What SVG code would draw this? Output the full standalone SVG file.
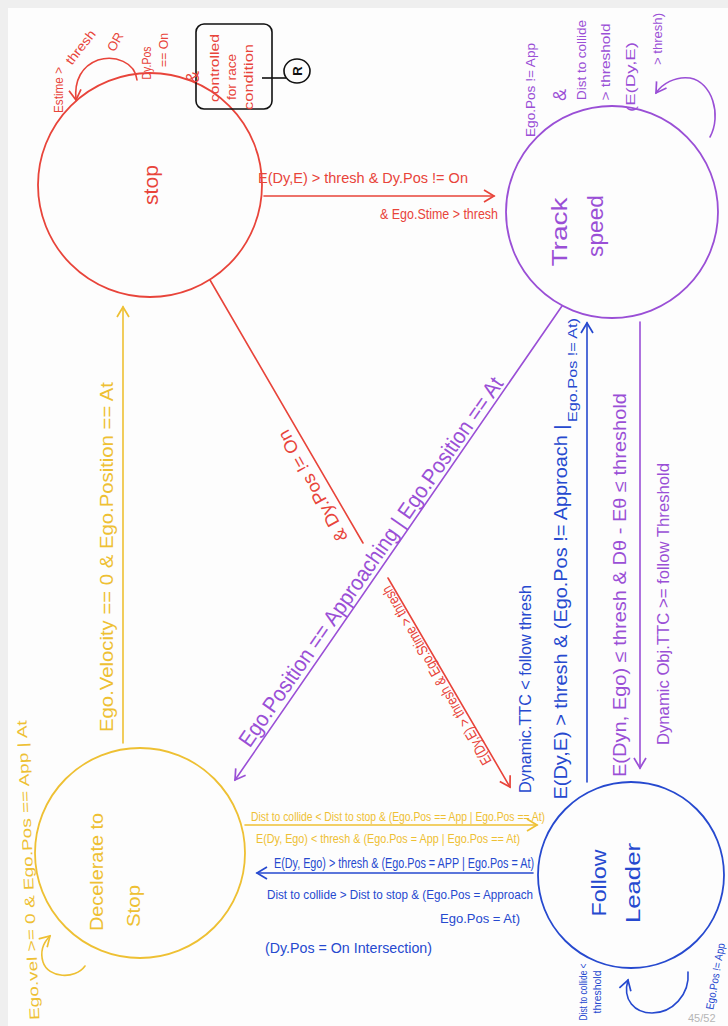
<svg xmlns="http://www.w3.org/2000/svg" width="728" height="1026" viewBox="0 0 728 1026">
<style>
text{font-family:"Liberation Sans","DejaVu Sans",sans-serif}
.r{fill:#e8443a}.p{fill:#9a4fd6}.y{fill:#eec033}.b{fill:#2649cf}.k{fill:#111}
.node{fill:none;stroke-width:1.8}
.cr{stroke:#e8443a}.cp{stroke:#9a4fd6}.cy{stroke:#eec033}.cb{stroke:#2649cf}
.ln{fill:none;stroke-width:1.6;stroke-linecap:round}
</style>
<defs>
<marker id="mr" viewBox="0 0 14 14" refX="12" refY="7" markerWidth="14" markerHeight="14" markerUnits="userSpaceOnUse" orient="auto"><path d="M2,1 L12,7 L2,13" fill="none" stroke="#e8443a" stroke-width="1.7"/></marker>
<marker id="mp" viewBox="0 0 14 14" refX="12" refY="7" markerWidth="14" markerHeight="14" markerUnits="userSpaceOnUse" orient="auto"><path d="M2,1 L12,7 L2,13" fill="none" stroke="#9a4fd6" stroke-width="1.7"/></marker>
<marker id="my" viewBox="0 0 14 14" refX="12" refY="7" markerWidth="14" markerHeight="14" markerUnits="userSpaceOnUse" orient="auto"><path d="M2,1 L12,7 L2,13" fill="none" stroke="#eec033" stroke-width="1.7"/></marker>
<marker id="mb" viewBox="0 0 14 14" refX="12" refY="7" markerWidth="14" markerHeight="14" markerUnits="userSpaceOnUse" orient="auto"><path d="M2,1 L12,7 L2,13" fill="none" stroke="#2649cf" stroke-width="1.7"/></marker>
</defs>
<rect x="0" y="0" width="728" height="1026" fill="#efefef"/>
<rect x="8" y="8" width="720" height="1018" fill="#fdfdfd"/>

<g id="node-stop">
<circle class="node cr" cx="150" cy="185" r="112"/>
<text class="r" font-size="20" text-anchor="middle" textLength="40" lengthAdjust="spacingAndGlyphs" transform="translate(158,185) rotate(-90)">stop</text>
</g>
<g id="node-track-speed">
<circle class="node cp" cx="612" cy="212" r="106"/>
<text class="p" font-size="22" text-anchor="middle" textLength="69" lengthAdjust="spacingAndGlyphs" transform="translate(567,232) rotate(-90)">Track</text>
<text class="p" font-size="22" text-anchor="middle" textLength="62" lengthAdjust="spacingAndGlyphs" transform="translate(603,226) rotate(-90)">speed</text>
</g>
<g id="node-decelerate">
<circle class="node cy" cx="140" cy="853" r="105"/>
<text class="y" font-size="18" text-anchor="middle" textLength="118" lengthAdjust="spacingAndGlyphs" transform="translate(103,872) rotate(-90)">Decelerate to</text>
<text class="y" font-size="18" text-anchor="middle" textLength="42" lengthAdjust="spacingAndGlyphs" transform="translate(140,906) rotate(-90)">Stop</text>
</g>
<g id="node-follow-leader">
<circle class="node cb" cx="631" cy="875" r="93"/>
<text class="b" font-size="21" text-anchor="middle" textLength="67" lengthAdjust="spacingAndGlyphs" transform="translate(606,883) rotate(-90)">Follow</text>
<text class="b" font-size="21" text-anchor="middle" textLength="80" lengthAdjust="spacingAndGlyphs" transform="translate(640,883) rotate(-90)">Leader</text>
</g>

<g id="note">
<rect x="196" y="24" width="76" height="85" rx="8" fill="none" stroke="#111" stroke-width="1.6"/>
<text class="r" font-size="13" text-anchor="middle" textLength="68" lengthAdjust="spacingAndGlyphs" transform="translate(219,68) rotate(-90)">controlled</text>
<text class="r" font-size="13" text-anchor="middle" textLength="46" lengthAdjust="spacingAndGlyphs" transform="translate(236,77) rotate(-90)">for race</text>
<text class="r" font-size="13" text-anchor="middle" textLength="66" lengthAdjust="spacingAndGlyphs" transform="translate(253,77) rotate(-90)">condition</text>
<path d="M262 78 L286 78" stroke="#111" stroke-width="1.6" fill="none"/>
<ellipse cx="297" cy="71" rx="13" ry="12" fill="none" stroke="#111" stroke-width="1.6"/>
<text class="k" font-size="13" font-weight="bold" text-anchor="middle" transform="translate(302,71) rotate(-90)">R</text>
</g>

<g id="connectors">
<path class="ln cr" d="M264 196 L494 196" marker-end="url(#mr)"/>
<path class="ln cr" d="M210 280 L363 543"/>
<path class="ln cr" d="M388 578 L510 787" marker-end="url(#mr)"/>
<path class="ln cp" d="M562 306 L235 780" marker-end="url(#mp)"/>
<path class="ln cy" d="M123 743 L123 307" marker-end="url(#my)"/>
<path class="ln cp" d="M640 322 L640 768" marker-end="url(#mp)"/>
<path class="ln cb" d="M587 782 L587 323" marker-end="url(#mb)"/>
<path class="ln cy" d="M245 825 L537 825" marker-end="url(#my)"/>
<path class="ln cb" d="M533 873 L257 873" marker-end="url(#mb)"/>
<path class="ln cr" d="M137 80 C135 62 115 55 98 60 C82 66 74 80 76 100" marker-end="url(#mr)"/>
<path class="ln cp" d="M710 137 C722 115 712 82 690 78 C675 76 662 84 656 93" marker-end="url(#mp)"/>
<path class="ln cy" d="M85 966 C75 980 48 978 43 962 C40 952 43 943 50 936" marker-end="url(#my)"/>
<path class="ln cb" d="M688 972 C690 995 672 1013 652 1013 C635 1013 622 1000 628 980" marker-end="url(#mb)"/>
</g>

<g id="labels">
<text class="r" x="258" y="183" font-size="14" textLength="210" lengthAdjust="spacingAndGlyphs">E(Dy,E) &gt; thresh &amp; Dy.Pos != On</text>
<text class="r" x="380" y="219" font-size="14" textLength="118" lengthAdjust="spacingAndGlyphs">&amp; Ego.Stime &gt; thresh</text>
<text class="r" font-size="18" text-anchor="middle" textLength="125" lengthAdjust="spacingAndGlyphs" transform="translate(318,483) rotate(-119)">&amp; Dy.Pos != On</text>
<text class="r" font-size="15" text-anchor="middle" textLength="204" lengthAdjust="spacingAndGlyphs" transform="translate(441,673) rotate(-120)">E(Dy,E) &gt; thresh &amp; Ego.Stime &gt; thresh</text>
<text class="p" font-size="22" text-anchor="middle" textLength="445" lengthAdjust="spacingAndGlyphs" transform="translate(377,566) rotate(-55.1)">Ego.Position == Approaching | Ego.Position == At</text>
<text class="y" font-size="18" text-anchor="middle" textLength="350" lengthAdjust="spacingAndGlyphs" transform="translate(113,557) rotate(-90)">Ego.Velocity == 0 &amp; Ego.Position == At</text>
<text class="b" font-size="18" text-anchor="middle" textLength="375" lengthAdjust="spacingAndGlyphs" transform="translate(567,612) rotate(-90)">E(Dy,E) &gt; thresh &amp; (Ego.Pos != Approach |</text>
<text class="b" font-size="12" text-anchor="middle" textLength="104" lengthAdjust="spacingAndGlyphs" transform="translate(577,370) rotate(-90)">Ego.Pos != At)</text>
<text class="b" font-size="17" text-anchor="middle" textLength="208" lengthAdjust="spacingAndGlyphs" transform="translate(531,689) rotate(-90)">Dynamic.TTC &lt; follow thresh</text>
<text class="p" font-size="18" text-anchor="middle" textLength="384" lengthAdjust="spacingAndGlyphs" transform="translate(626,585) rotate(-90)">E(Dyn, Ego) ≤ thresh &amp; Dθ - Eθ ≤ threshold</text>
<text class="p" font-size="17" text-anchor="middle" textLength="282" lengthAdjust="spacingAndGlyphs" transform="translate(669,604) rotate(-90)">Dynamic Obj.TTC &gt;= follow Threshold</text>
<text class="y" x="251" y="821" font-size="12" textLength="294" lengthAdjust="spacingAndGlyphs">Dist to collide &lt; Dist to stop &amp; (Ego.Pos == App | Ego.Pos == At)</text>
<text class="y" x="256" y="843" font-size="12" textLength="264" lengthAdjust="spacingAndGlyphs">E(Dy, Ego) &lt; thresh &amp; (Ego.Pos = App | Ego.Pos == At)</text>
<text class="b" x="274" y="868" font-size="14" textLength="260" lengthAdjust="spacingAndGlyphs">E(Dy, Ego) &gt; thresh &amp; (Ego.Pos = APP | Ego.Pos = At)</text>
<text class="b" x="267" y="899" font-size="13" textLength="266" lengthAdjust="spacingAndGlyphs">Dist to collide &gt; Dist to stop &amp; (Ego.Pos = Approach</text>
<text class="b" x="440" y="923" font-size="13" textLength="80" lengthAdjust="spacingAndGlyphs">Ego.Pos = At)</text>
<text class="b" x="265" y="953" font-size="14" textLength="167" lengthAdjust="spacingAndGlyphs">(Dy.Pos = On Intersection)</text>

<text class="r" font-size="13" text-anchor="middle" textLength="46" lengthAdjust="spacingAndGlyphs" transform="translate(63,90) rotate(-90)">Estime &gt;</text>
<text class="r" font-size="13" text-anchor="middle" textLength="40" lengthAdjust="spacingAndGlyphs" transform="translate(84,50) rotate(-52)">thresh</text>
<text class="r" font-size="13" text-anchor="middle" transform="translate(119,44) rotate(-60)">OR</text>
<text class="r" font-size="12" text-anchor="middle" textLength="33" lengthAdjust="spacingAndGlyphs" transform="translate(151,63) rotate(-90)">Dy.Pos</text>
<text class="r" font-size="13" text-anchor="middle" textLength="34" lengthAdjust="spacingAndGlyphs" transform="translate(168,50) rotate(-90)">== On</text>
<text class="r" font-size="18" text-anchor="middle" transform="translate(199,77) rotate(-90)">&amp;</text>

<text class="p" font-size="13" text-anchor="middle" textLength="94" lengthAdjust="spacingAndGlyphs" transform="translate(535,90) rotate(-90)">Ego.Pos != App</text>
<text class="p" font-size="18" text-anchor="middle" transform="translate(566,95) rotate(-90)">&amp;</text>
<text class="p" font-size="12" text-anchor="middle" textLength="80" lengthAdjust="spacingAndGlyphs" transform="translate(586,60) rotate(-90)">Dist to collide</text>
<text class="p" font-size="13" text-anchor="middle" textLength="77" lengthAdjust="spacingAndGlyphs" transform="translate(610,62) rotate(-90)">&gt; threshold</text>
<text class="p" font-size="13" text-anchor="middle" textLength="70" lengthAdjust="spacingAndGlyphs" transform="translate(635,77) rotate(-90)">(E(Dy,E)</text>
<text class="p" font-size="13" text-anchor="middle" textLength="52" lengthAdjust="spacingAndGlyphs" transform="translate(662,39) rotate(-90)">&gt; thresh)</text>

<text class="y" font-size="14" text-anchor="middle" textLength="300" lengthAdjust="spacingAndGlyphs" transform="translate(33,870) rotate(-92.5)">Ego.vel &gt;= 0 &amp; Ego.Pos == App | At</text>

<text class="b" font-size="11" text-anchor="middle" textLength="57" lengthAdjust="spacingAndGlyphs" transform="translate(587,992) rotate(-90)">Dist to collide &lt;</text>
<text class="b" font-size="11" text-anchor="middle" textLength="43" lengthAdjust="spacingAndGlyphs" transform="translate(601,992) rotate(-90)">threshold</text>
<text class="b" font-size="11" text-anchor="middle" textLength="67" lengthAdjust="spacingAndGlyphs" transform="translate(719,977) rotate(-80)">Ego.Pos != App</text>

<text x="688" y="1022" font-size="11" fill="#b5b5b5">45/52</text>
</g>
</svg>
